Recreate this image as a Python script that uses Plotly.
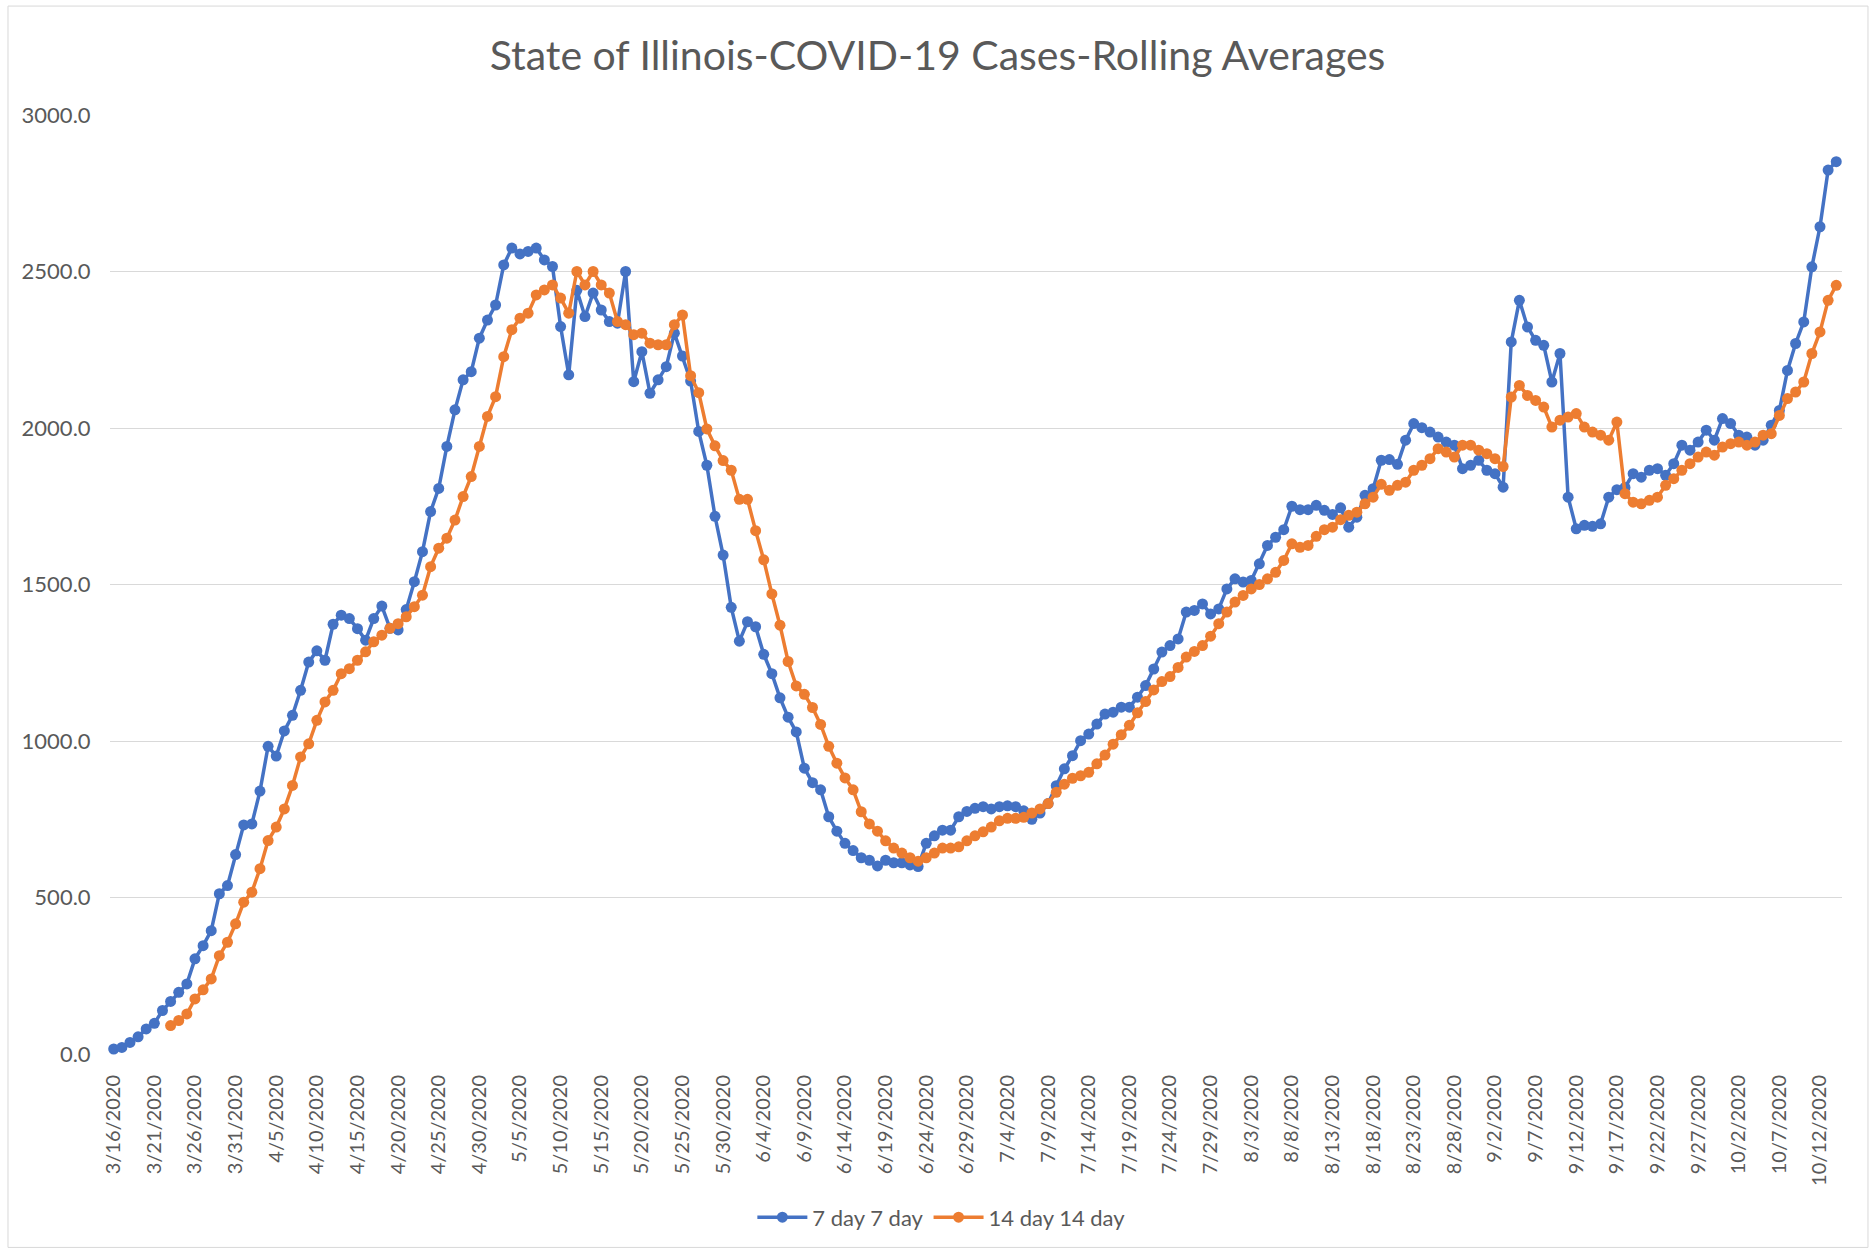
import pandas as pd
import plotly.graph_objects as go

# Dates (daily, 3/16/2020 .. 10/14/2020)
dates = pd.date_range("2020-03-16", periods=213, freq="D")

# 7-day rolling average (starts 3/16/2020)
seven_day = [
    16, 21, 37, 55, 80, 98, 139, 168, 197, 224,
    304, 346, 394, 512, 538, 637, 732, 735, 840, 983,
    952, 1032, 1082, 1162, 1252, 1288, 1258, 1373, 1402, 1391,
    1359, 1322, 1391, 1431, 1360, 1355, 1420, 1509, 1605, 1733,
    1807, 1941, 2058, 2154, 2180, 2287, 2345, 2393, 2521, 2575,
    2556, 2564, 2575, 2537, 2516, 2324, 2170, 2440, 2356, 2431,
    2377, 2340, 2335, 2500, 2148, 2244, 2111, 2154, 2196, 2303,
    2230, 2150, 1989, 1881, 1718, 1594, 1427, 1319, 1381, 1365,
    1277, 1215, 1138, 1076, 1029, 913, 867, 844, 758, 712,
    673, 650, 627, 619, 601, 619, 611, 611, 604, 599,
    673, 697, 715, 715, 758, 775, 785, 790, 783, 790,
    793, 790, 777, 750, 770, 800, 857, 911, 953, 1001,
    1022, 1054, 1086, 1092, 1108, 1108, 1140, 1177, 1230, 1284,
    1305, 1326, 1412, 1417, 1438, 1406, 1422, 1486, 1518, 1508,
    1513, 1566, 1625, 1651, 1675, 1750, 1739, 1739, 1753, 1737,
    1724, 1745, 1683, 1715, 1785, 1806, 1897, 1899, 1884, 1961,
    2014, 2001, 1987, 1971, 1955, 1945, 1870, 1881, 1897, 1865,
    1854, 1811, 2275, 2408, 2323, 2280, 2264, 2147, 2238, 1779,
    1678, 1689, 1686, 1694, 1779, 1803, 1810, 1854, 1843, 1865,
    1870, 1849, 1886, 1945, 1929, 1955, 1993, 1961, 2030, 2014,
    1977, 1971, 1945, 1961, 2009, 2056, 2184, 2270, 2339, 2515,
    2643, 2824, 2851,
]

# 14-day rolling average (starts 3/23/2020)
fourteen_start = 7
fourteen_day = [
    91, 107, 128,
    176, 205, 240, 314, 357, 416, 485, 517, 592, 682,
    725, 783, 858, 949, 991, 1066, 1125, 1162, 1215, 1231,
    1258, 1285, 1317, 1338, 1360, 1375, 1397, 1429, 1466, 1557,
    1616, 1648, 1706, 1781, 1845, 1941, 2037, 2100, 2228, 2314,
    2351, 2367, 2425, 2441, 2457, 2415, 2367, 2500, 2457, 2500,
    2457, 2431, 2340, 2330, 2298, 2303, 2271, 2266, 2266, 2330,
    2361, 2167, 2113, 1997, 1943, 1896, 1865, 1772, 1772, 1672,
    1579, 1470, 1370, 1254, 1176, 1149, 1107, 1053, 983, 929,
    882, 844, 774, 735, 712, 681, 658, 642, 627, 616,
    627, 642, 658, 658, 662, 681, 697, 710, 725, 745,
    753, 753, 756, 770, 783, 800, 836, 862, 881, 889,
    900, 927, 955, 990, 1020, 1050, 1090, 1126, 1163, 1190,
    1206, 1235, 1268, 1286, 1305, 1335, 1375, 1412, 1444, 1465,
    1486, 1500, 1518, 1539, 1577, 1630, 1619, 1625, 1654, 1675,
    1683, 1707, 1721, 1731, 1758, 1779, 1820, 1801, 1817, 1827,
    1865, 1881, 1902, 1934, 1923, 1907, 1945, 1945, 1929, 1918,
    1902, 1877, 2099, 2136, 2104, 2088, 2067, 2003, 2025, 2035,
    2046, 2003, 1987, 1977, 1961, 2019, 1790, 1763, 1758, 1769,
    1779, 1817, 1838, 1865, 1886, 1907, 1923, 1913, 1939, 1950,
    1955, 1945, 1955, 1977, 1982, 2040, 2094, 2115, 2147, 2238,
    2307, 2408, 2456,
]

title_text = "State of Illinois-COVID-19 Cases-Rolling Averages"
series_names = ["7 day 7 day", "14 day 14 day"]
blue = "#4472C4"
orange = "#ED7D31"
grey_text = "#595959"
font_family = "Lato, 'Open Sans', sans-serif"

fig = go.Figure()
fig.add_trace(go.Scatter(
    x=dates, y=seven_day, name=series_names[0], mode="lines+markers",
    line=dict(color=blue, width=3.5), marker=dict(color=blue, size=11),
    cliponaxis=False,
))
fig.add_trace(go.Scatter(
    x=dates[fourteen_start:fourteen_start + len(fourteen_day)], y=fourteen_day,
    name=series_names[1], mode="lines+markers",
    line=dict(color=orange, width=3.5), marker=dict(color=orange, size=11),
    cliponaxis=False,
))

day_ms = 86400000
x_lo = dates[0] - pd.Timedelta(hours=11)
x_hi = dates[-1] + pd.Timedelta(hours=17)

fig.update_layout(
    width=1875, height=1251,
    paper_bgcolor="white", plot_bgcolor="white",
    margin=dict(l=110, r=33, t=115, b=197),
    font=dict(family=font_family, color=grey_text),
    title=dict(text=title_text, x=0.5, xref="container", xanchor="center",
               y=1 - 56 / 1251, yref="container", yanchor="middle",
               font=dict(size=41, color=grey_text, family=font_family)),
    showlegend=True,
    legend=dict(orientation="h", x=0.48, xanchor="center", y=-0.174, yanchor="middle",
                font=dict(size=22, color=grey_text), itemwidth=50,
                bgcolor="rgba(0,0,0,0)"),
    shapes=[dict(type="rect", xref="paper", yref="paper",
                 x0=-0.0589, x1=1.015, y0=-0.206, y1=1.116,
                 line=dict(color="#D9D9D9", width=1), fillcolor="rgba(0,0,0,0)",
                 layer="below")],
)
fig.update_xaxes(
    type="date", range=[x_lo, x_hi],
    tick0=dates[0], dtick=5 * day_ms, tickformat="%-m/%-d/%Y",
    tickangle=-90, tickfont=dict(size=20, color=grey_text),
    showgrid=False, showline=False, zeroline=False,
    ticks="outside", ticklen=12, tickcolor="rgba(0,0,0,0)",
)
fig.update_yaxes(
    range=[0, 3000], dtick=500, tickformat=".1f",
    tickfont=dict(size=22, color=grey_text),
    showgrid=True, gridcolor="#D9D9D9", gridwidth=1,
    zeroline=False, showline=False,
    ticks="outside", ticklen=14, tickcolor="rgba(0,0,0,0)",
)

fig.write_html("out.html", config={"displayModeBar": False},
               post_script="document.body.style.margin='0';")
